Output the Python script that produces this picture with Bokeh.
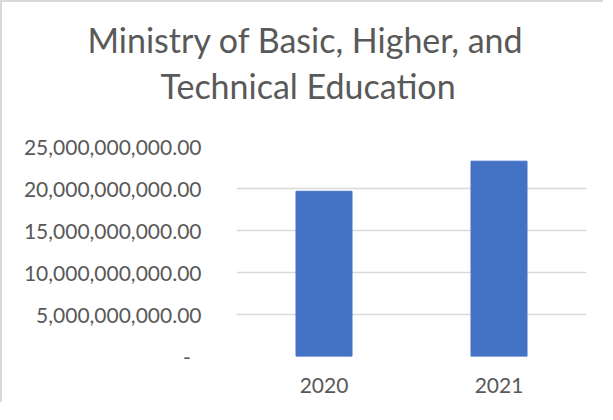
from bokeh.plotting import figure
from bokeh.models import (FactorRange, Range1d, FixedTicker, CustomJSTickFormatter,
                          Title, ColumnDataSource)
from bokeh.embed import file_html
from bokeh.resources import INLINE

title_lines = ["Ministry of Basic, Higher, and", "Technical Education"]
years = ["2020", "2021"]
amounts = [19.67e9, 23.25e9]
y_ticks = [0, 5e9, 10e9, 15e9, 20e9, 25e9]

TXT = "#595959"
GRID = "#d9d9d9"
FONT = "Lato"

src = ColumnDataSource(data=dict(year=years, amount=amounts))

p = figure(x_range=FactorRange(*years, range_padding=0),
           y_range=Range1d(0, 25e9),
           width=603, height=402, output_backend="svg", toolbar_location=None,
           min_border_left=234, min_border_right=19,
           min_border_top=144, min_border_bottom=48)
p.styles = {"border-left": f"2px solid {GRID}", "border-top": f"2px solid {GRID}"}
p.outline_line_color = None
p.background_fill_color = "white"
p.border_fill_color = "white"

p.vbar(x="year", top="amount", width=0.32, source=src, color="#4472c4")

p.xgrid.grid_line_color = None
p.ygrid.grid_line_color = GRID
p.ygrid.grid_line_width = 1.5

p.yaxis.ticker = FixedTicker(ticks=y_ticks)
p.yaxis.formatter = CustomJSTickFormatter(code="""
if (tick == 0) { return "-\\u00a0\\u00a0"; }
return tick.toLocaleString('en-US', {minimumFractionDigits: 2, maximumFractionDigits: 2});
""")
for ax in (p.xaxis, p.yaxis):
    ax.axis_line_color = None
    ax.major_tick_line_color = None
    ax.minor_tick_line_color = None
    ax.major_label_text_font = FONT
    ax.major_label_text_font_size = "21px"
    ax.major_label_text_color = TXT
p.yaxis.major_label_standoff = 29
p.xaxis.major_label_standoff = 15

# titles stack upward from the frame: spacer, line 2, line 1
p.add_layout(Title(text=" ", text_font_size="1px", standoff=37), "above")
p.add_layout(Title(text=title_lines[1], align="left", offset=-76,
                   text_font=FONT, text_font_size="34px", text_color=TXT,
                   text_font_style="normal", standoff=1), "above")
p.add_layout(Title(text=title_lines[0], align="left", offset=-149,
                   text_font=FONT, text_font_size="34px", text_color=TXT,
                   text_font_style="normal", standoff=5), "above")

open("out.html", "w").write(file_html(p, INLINE))
